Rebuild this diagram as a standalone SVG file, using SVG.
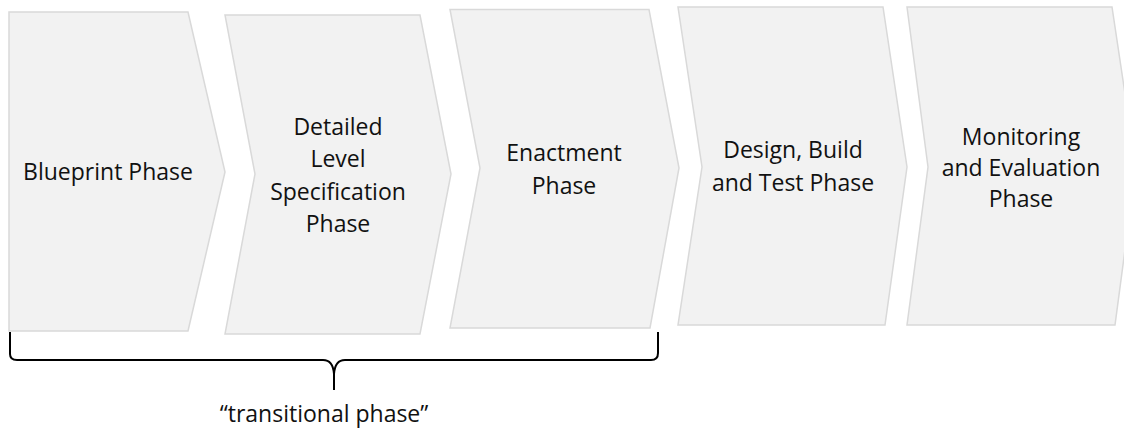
<svg xmlns="http://www.w3.org/2000/svg" width="1124" height="428" viewBox="0 0 1124 428">
  <style>
    .phase { fill: #f2f2f2; stroke: #d9d9d9; stroke-width: 1.5; stroke-linejoin: miter; }
    .label { font-family: "Open Sans", "Liberation Sans", sans-serif; font-size: 23px; fill: #111; text-anchor: middle; }
    .brace { fill: none; stroke: #000; stroke-width: 2; stroke-linecap: butt; stroke-linejoin: round; }
  </style>
  <rect width="1124" height="428" fill="#ffffff"/>

  <!-- process chevrons -->
  <g id="blueprint">
    <polygon class="phase" points="9,12 188,12 225,172 188,331 9,331"/>
    <text class="label" x="108" y="180">Blueprint Phase</text>
  </g>

  <g id="detailed-level">
    <polygon class="phase" points="225,15 420,15 451,174 420,334 225,334 255,174"/>
    <text class="label" x="338" y="134.5">Detailed</text>
    <text class="label" x="338" y="167">Level</text>
    <text class="label" x="338" y="199.5">Specification</text>
    <text class="label" x="338" y="232">Phase</text>
  </g>

  <g id="enactment">
    <polygon class="phase" points="450,9.5 649,9.5 679,168 650,328 450,328 480,168"/>
    <text class="label" x="564" y="161">Enactment</text>
    <text class="label" x="564" y="193.5">Phase</text>
  </g>

  <g id="design-build-test">
    <polygon class="phase" points="678,7 883,7 907,167 885,325 678,325 702,167"/>
    <text class="label" x="793" y="157.5">Design, Build</text>
    <text class="label" x="793" y="190.5">and Test Phase</text>
  </g>

  <g id="monitoring-evaluation">
    <polygon class="phase" points="907,7 1112,7 1136,167 1115,325 907,325 928,167"/>
    <text class="label" x="1021" y="144.5">Monitoring</text>
    <text class="label" x="1021" y="176">and Evaluation</text>
    <text class="label" x="1021" y="207">Phase</text>
  </g>

  <!-- curly brace grouping the first three phases -->
  <g id="connectors">
    <path class="brace" d="M10,332 L10,354 Q10,360 17,360 L323,360 Q333,360 334,374 L334,390 M334,374 Q335,360 345,360 L651,360 Q658,360 658,353 L658,332"/>
  </g>

  <g id="transitional-label">
    <text class="label" x="324" y="422">“transitional phase”</text>
  </g>
</svg>
